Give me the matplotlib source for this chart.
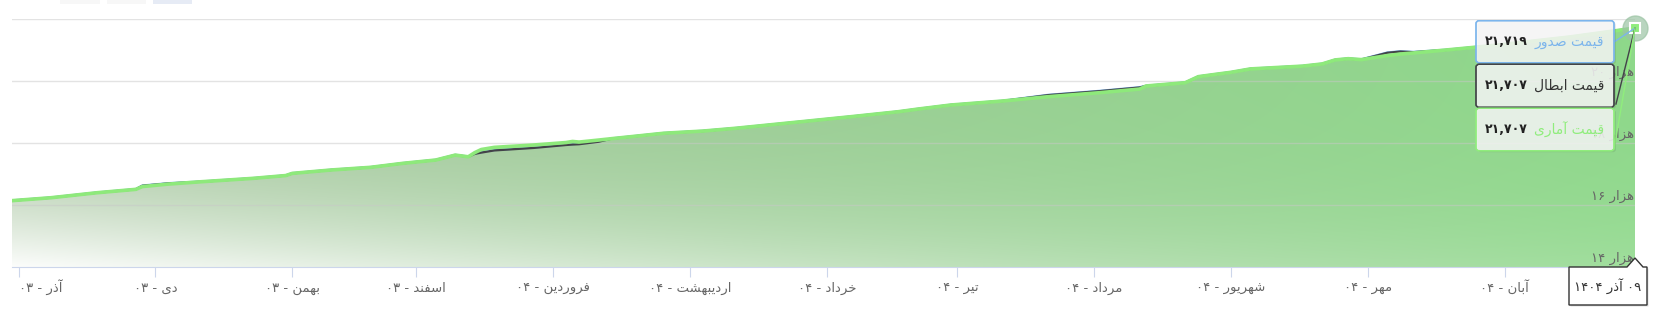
import re
import numpy as np
import matplotlib
matplotlib.use('Agg')
import matplotlib.pyplot as plt
from matplotlib.patches import Rectangle, FancyBboxPatch, Polygon
from matplotlib.lines import Line2D
from matplotlib.transforms import IdentityTransform, blended_transform_factory

# --- data (trading-day index -> price) ---
day_idx = [0, 6, 13, 19, 20, 24, 29, 37, 42, 43, 49, 55, 60, 65, 68, 70, 71, 72, 74, 80, 85, 86, 87,
           90, 92, 95, 100, 106, 111, 116, 121, 129, 136, 139, 144, 152, 159, 167, 173, 174, 180, 182,
           185, 187, 190, 198, 201, 203, 205, 207, 211, 213, 215, 220, 228, 239, 249]
stat_y = [16140, 16235, 16395, 16505, 16595, 16675, 16750, 16860, 16950, 17020, 17130, 17215, 17345,
          17450, 17610, 17555, 17690, 17790, 17860, 17935, 18015, 18050, 18030, 18095, 18140, 18205,
          18315, 18385, 18475, 18580, 18685, 18855, 19010, 19095, 19225, 19355, 19495, 19625, 19740,
          19840, 19945, 20140, 20225, 20280, 20390, 20480, 20550, 20680, 20720, 20690, 20820, 20870,
          20905, 21000, 21160, 21420, 21707]
cancel_y = [16140, 16235, 16395, 16505, 16620, 16695, 16750, 16860, 16950, 17020, 17130, 17215, 17345,
            17450, 17610, 17555, 17650, 17690, 17760, 17840, 17935, 17950, 17960, 18040, 18140, 18205,
            18315, 18385, 18475, 18580, 18685, 18855, 19010, 19095, 19225, 19355, 19545, 19675, 19790,
            19840, 19945, 20140, 20225, 20280, 20390, 20480, 20550, 20680, 20720, 20690, 20910, 20950,
            20930, 21000, 21160, 21420, 21707]
issue_y = [16152, 16247, 16407, 16517, 16632, 16707, 16762, 16872, 16962, 17032, 17142, 17227, 17357,
           17462, 17622, 17567, 17662, 17702, 17772, 17852, 17947, 17962, 17972, 18052, 18152, 18217,
           18327, 18397, 18487, 18592, 18697, 18867, 19022, 19107, 19237, 19367, 19557, 19687, 19802,
           19852, 19957, 20152, 20237, 20292, 20402, 20492, 20562, 20692, 20732, 20702, 20922, 20962,
           20942, 21012, 21172, 21432, 21719]

month_idx = [1, 22, 43, 62, 83, 104, 125, 145, 166, 187, 208, 229]
month_labels = ['آذر - ۰۳', 'دی - ۰۳', 'بهمن - ۰۳', 'اسفند - ۰۳', 'فروردین - ۰۴', 'اردیبهشت - ۰۴',
                'خرداد - ۰۴', 'تیر - ۰۴', 'مرداد - ۰۴', 'شهریور - ۰۴', 'مهر - ۰۴', 'آبان - ۰۴']
y_grid = [14000, 16000, 18000, 20000, 22000]
y_label_vals = [14000, 16000, 18000, 20000]

tip_names = ['قیمت صدور', 'قیمت ابطال', 'قیمت آماری']
tip_values = [21719, 21707, 21707]
tip_colors = ['#7cb5ec', '#434348', '#90ed7d']
tip_text_colors = ['#7cb5ec', '#333333', '#90ed7d']
tip_date = '۰۹ آذر ۱۴۰۴'

# --- minimal Persian shaping + visual ordering (matplotlib has no bidi) ---
AR_FORMS = {
    '\u0627': ('\uFE8D', '\uFE8E', None, None),
    '\u0622': ('\uFE81', '\uFE82', None, None),
    '\u0628': ('\uFE8F', '\uFE90', '\uFE91', '\uFE92'),
    '\u062A': ('\uFE95', '\uFE96', '\uFE97', '\uFE98'),
    '\u062E': ('\uFEA5', '\uFEA6', '\uFEA7', '\uFEA8'),
    '\u062F': ('\uFEA9', '\uFEAA', None, None),
    '\u0630': ('\uFEAB', '\uFEAC', None, None),
    '\u0631': ('\uFEAD', '\uFEAE', None, None),
    '\u0632': ('\uFEAF', '\uFEB0', None, None),
    '\u0633': ('\uFEB1', '\uFEB2', '\uFEB3', '\uFEB4'),
    '\u0634': ('\uFEB5', '\uFEB6', '\uFEB7', '\uFEB8'),
    '\u0635': ('\uFEB9', '\uFEBA', '\uFEBB', '\uFEBC'),
    '\u0637': ('\uFEC1', '\uFEC2', '\uFEC3', '\uFEC4'),
    '\u0641': ('\uFED1', '\uFED2', '\uFED3', '\uFED4'),
    '\u0642': ('\uFED5', '\uFED6', '\uFED7', '\uFED8'),
    '\u0644': ('\uFEDD', '\uFEDE', '\uFEDF', '\uFEE0'),
    '\u0645': ('\uFEE1', '\uFEE2', '\uFEE3', '\uFEE4'),
    '\u0646': ('\uFEE5', '\uFEE6', '\uFEE7', '\uFEE8'),
    '\u0647': ('\uFEE9', '\uFEEA', '\uFEEB', '\uFEEC'),
    '\u0648': ('\uFEED', '\uFEEE', None, None),
    '\u06CC': ('\uFBFC', '\uFBFD', '\uFBFE', '\uFBFF'),
}
DIGITS = '0123456789\u06F0\u06F1\u06F2\u06F3\u06F4\u06F5\u06F6\u06F7\u06F8\u06F9,'


def shape(s):
    s = s.replace('\u064A', '\u06CC').replace('\u0627\u0653', '\u0622')
    out = []
    for i, ch in enumerate(s):
        f = AR_FORMS.get(ch)
        if f is None:
            out.append(ch)
            continue
        prev = AR_FORMS.get(s[i - 1]) if i > 0 else None
        nxt = s[i + 1] if i + 1 < len(s) else ''
        jp = prev is not None and prev[2] is not None
        jn = f[2] is not None and nxt in AR_FORMS
        out.append(f[3] if (jp and jn) else f[1] if jp else f[2] if jn else f[0])
    return ''.join(out)


def fa(s):
    s = shape(s)
    runs = re.findall('[' + DIGITS + ']+|[^' + DIGITS + ']+', s)
    return ''.join(r if r[0] in DIGITS else r[::-1] for r in reversed(runs))


def fa_num(v):
    return f'{v:,}'.translate(str.maketrans('0123456789', '۰۱۲۳۴۵۶۷۸۹'))


W, H = 1657, 321
plt.rcParams['font.family'] = ['DejaVu Sans']
fig = plt.figure(figsize=(W / 100, H / 100), dpi=100)
ax = fig.add_axes([12 / W, 1 - 267 / H, (1635 - 12) / W, (267 - 19) / H])

# gradient fill under the statistical price
poly = ax.fill_between(day_idx, stat_y, 14000, color='none', lw=0)
gh, gw = 200, 600
xf = np.linspace(0, 1, gw)[None, :]
yf = np.linspace(0, 1, gh)[:, None]
a = 0.04 + 0.96 * np.tanh(1.2 * xf + 2.1 * (1 - yf))
c_left = np.array([163, 194, 155]) / 255
c_right = np.array([142, 216, 138]) / 255
base = c_left[None, None, :] * (1 - xf[..., None]) + c_right[None, None, :] * xf[..., None]
rgb = 1 - a[..., None] * (1 - base)
img = ax.imshow(rgb, extent=(0, 249, 14000, 22000), origin='upper', aspect='auto',
                interpolation='bilinear', zorder=1)
img.set_clip_path(poly.get_paths()[0], transform=ax.transData)

for v in y_grid[1:]:
    ax.axhline(v, color='#c8c8c8', lw=1, alpha=0.5, zorder=2)

ax.plot(day_idx, issue_y, color='#7cb5ec', lw=1.5, zorder=3)
ax.plot(day_idx, cancel_y, color='#434348', lw=1.6, zorder=3)
ax.plot(day_idx, stat_y, color='#8ee97b', lw=2.6, zorder=4, solid_joinstyle='round')

ax.set_xlim(0, 249)
ax.set_ylim(14000, 22000)
ax.set_yticks([])
for s in ['top', 'left', 'right']:
    ax.spines[s].set_visible(False)
ax.spines['bottom'].set_color('#ccd6eb')
ax.spines['bottom'].set_zorder(5)
ax.set_xticks(month_idx)
ax.set_xticklabels([fa(l) for l in month_labels])
ax.tick_params(axis='x', length=7.5, color='#ccd6eb', labelcolor='#666666', labelsize=9.5, pad=10.5)
for lab in ax.get_xticklabels():
    lab.set_va('baseline')
ax.get_xticklabels()[0].set_ha('left')

trans = blended_transform_factory(ax.transAxes, ax.transData)
for v in y_label_vals:
    ax.annotate(fa('هزار ' + fa_num(v // 1000)), xy=(1, v), xycoords=trans, xytext=(-0.5, 1.5),
                textcoords='offset points', ha='right', va='bottom', color='#666666',
                fontsize=9.5, zorder=6)

# last point marker with halo
ax.plot(day_idx[-1], stat_y[-1], 'o', ms=18, color='#9cc4a4', alpha=0.7, clip_on=False, zorder=7)
ax.plot(day_idx[-1], stat_y[-1], 's', ms=7, mfc='#90ed7d', mec='white', mew=1.5, clip_on=False, zorder=8)

# --- tooltips in pixel coordinates ---
ident = IdentityTransform()


def P(x, y):
    return (x, H - y)


fig.canvas.draw()
px, py = ax.transData.transform((day_idx[-1], stat_y[-1]))
starts = [(1614, 42), (1616, 104), (1614, 149)]
for (sx, sy), c in zip(starts, tip_colors):
    fig.add_artist(Line2D([sx, px], [H - sy, py], color=c, lw=1, transform=ident, zorder=9))

boxes = [(20.7, 62.7), (64.3, 107.3), (108.3, 150.7)]
for (y0, y1), name, val, ec, tc in zip(boxes, tip_names, tip_values, tip_colors, tip_text_colors):
    fig.add_artist(FancyBboxPatch(P(1478, y1 + 1.5), 138, y1 - y0,
                                  boxstyle='round,pad=0,rounding_size=3', transform=ident,
                                  fc='black', ec='none', alpha=0.08, zorder=9))
    fig.add_artist(FancyBboxPatch(P(1476, y1), 138, y1 - y0,
                                  boxstyle='round,pad=0,rounding_size=3', transform=ident,
                                  fc='#f7f7f7', ec=ec, lw=1, alpha=0.85, zorder=10))
    fig.add_artist(FancyBboxPatch(P(1476, y1), 138, y1 - y0,
                                  boxstyle='round,pad=0,rounding_size=3', transform=ident,
                                  fc='none', ec=ec, lw=1, zorder=10))
    cy = (y0 + y1) / 2
    fig.text(*P(1604, cy), fa(name), transform=ident, ha='right', va='center',
             color=tc, fontsize=10, zorder=11)
    fig.text(*P(1485, cy), fa(fa_num(val)), transform=ident, ha='left', va='center',
             color='#222222', fontsize=9, fontweight='bold', zorder=11)

# date tooltip with arrow
date_pts = [P(1569, 267), P(1627, 267), P(1635, 258), P(1643, 267), P(1647, 267),
            P(1647, 305), P(1569, 305)]
shadow_pts = [(x + 1.5, y - 1.5) for x, y in date_pts]
fig.add_artist(Polygon(shadow_pts, closed=True, transform=ident, fc='black', ec='none',
                       alpha=0.12, zorder=9))
fig.add_artist(Polygon(date_pts, closed=True, transform=ident, fc='white', ec='#333333',
                       lw=1, zorder=10))
fig.text(*P(1608, 286), fa(tip_date), transform=ident, ha='center', va='center',
         color='#333333', fontsize=9.5, zorder=11)

# range selector buttons peeking at the top
for x0, x1, c in [(60, 100, '#f7f7f7'), (107, 146, '#f7f7f7'), (153, 192, '#e6ebf5')]:
    fig.add_artist(Rectangle(P(x0, 4), x1 - x0, 4, transform=ident, fc=c, ec='none'))

fig.savefig('out.png', dpi=100)
